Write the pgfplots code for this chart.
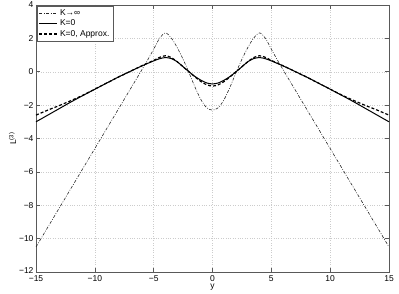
\documentclass[border=0pt]{standalone}
\usepackage{pgfplots}
\pgfplotsset{compat=1.18}
\usepackage{fontspec}
\setmainfont{Liberation Sans}
\begin{document}
\begin{tikzpicture}
\begin{axis}[
  scale only axis,
  width=353pt, height=267pt,
  xmin=-15, xmax=15, ymin=-12, ymax=4,
  xtick={-15,-10,-5,0,5,10,15},
  xticklabels={−15,−10,−5,0,5,10,15},
  ytick={-12,-10,-8,-6,-4,-2,0,2,4},
  yticklabels={\raisebox{2.5pt}{−12},−10,−8,−6,−4,−2,0,2,4},
  tick align=inside,
  major tick length=4pt,
  tick style={gray!70!black, line width=0.5pt},
  axis line style={gray!70!black, line width=0.8pt},
  grid=major,
  grid style={dotted, gray!40, line width=0.4pt},
  ticklabel style={font=\fontsize{8.5}{10}\selectfont},
  xticklabel style={yshift=0pt},
  yticklabel style={xshift=1pt},
  xlabel={y},
  ylabel={L\textsuperscript{(3)}},
  label style={font=\fontsize{8.5}{10}\selectfont},
  xlabel style={yshift=4pt},
  ylabel style={yshift=-4pt},
  legend style={at={(0.003,0.997)}, anchor=north west, draw=gray!70!black, line width=0.5pt,
    font=\fontsize{8.5}{10}\selectfont, inner sep=1.5pt, row sep=-1pt, fill=white},
  legend cell align=left,
  legend image code/.code={\draw[#1] (0pt,0pt) -- (18pt,0pt);},
]
% K -> infinity
\addplot[black!85, line width=0.6pt, dash pattern=on 3pt off 1.5pt on 0.8pt off 1.5pt, smooth] coordinates {
(-15,-10.5) (-14,-9.32) (-13,-8.14) (-12,-6.96) (-11,-5.78) (-10,-4.6) (-9,-3.42) (-8,-2.24) (-7,-1.06) (-6,0.12) (-5.5,0.72) (-5,1.35) (-4.5,2.0) (-4,2.33) (-3.5,2.02) (-3,1.45) (-2.5,0.75) (-2,-0.05) (-1.5,-0.9) (-1,-1.65) (-0.5,-2.15) (0,-2.3)
(0.5,-2.15) (1,-1.65) (1.5,-0.9) (2,-0.05) (2.5,0.75) (3,1.45) (3.5,2.02) (4,2.33) (4.5,2.0) (5,1.35) (5.5,0.72) (6,0.12) (7,-1.06) (8,-2.24) (9,-3.42) (10,-4.6) (11,-5.78) (12,-6.96) (13,-8.14) (14,-9.32) (15,-10.5)
};
\addlegendentry{K→∞}
% K = 0
\addplot[black, line width=1pt, smooth] coordinates {
(-15,-3.0) (-14,-2.6) (-13,-2.2) (-12,-1.8) (-11,-1.42) (-10,-1.05) (-9,-0.68) (-8,-0.32) (-7,0.02) (-6,0.35) (-5,0.65) (-4.5,0.78) (-4,0.85) (-3.5,0.79) (-3,0.6) (-2.5,0.3) (-2,0.0) (-1.5,-0.28) (-1,-0.5) (-0.5,-0.67) (0,-0.73)
(0.5,-0.67) (1,-0.5) (1.5,-0.28) (2,0.0) (2.5,0.3) (3,0.6) (3.5,0.79) (4,0.85) (4.5,0.78) (5,0.65) (6,0.35) (7,0.02) (8,-0.32) (9,-0.68) (10,-1.05) (11,-1.42) (12,-1.8) (13,-2.2) (14,-2.6) (15,-3.0)
};
\addlegendentry{K=0}
% K = 0, Approx
\addplot[black, line width=1.2pt, dash pattern=on 3pt off 2pt, smooth] coordinates {
(-15,-2.6) (-14,-2.3) (-13,-2.02) (-12,-1.72) (-11,-1.4) (-10,-1.04) (-9,-0.68) (-8,-0.32) (-7,0.02) (-6,0.36) (-5,0.68) (-4.5,0.86) (-4,0.96) (-3.5,0.85) (-3,0.6) (-2.5,0.3) (-2,0.0) (-1.5,-0.3) (-1,-0.58) (-0.5,-0.78) (0,-0.86)
(0.5,-0.78) (1,-0.58) (1.5,-0.3) (2,0.0) (2.5,0.3) (3,0.6) (3.5,0.85) (4,0.96) (4.5,0.86) (5,0.68) (6,0.36) (7,0.02) (8,-0.32) (9,-0.68) (10,-1.04) (11,-1.4) (12,-1.72) (13,-2.02) (14,-2.3) (15,-2.6)
};
\addlegendentry{K=0, Approx.}
\end{axis}
\pgfresetboundingbox
\path ([xshift=-36pt,yshift=-22pt]current axis.south west) rectangle ([xshift=10pt,yshift=5pt]current axis.north east);
\end{tikzpicture}
\end{document}
